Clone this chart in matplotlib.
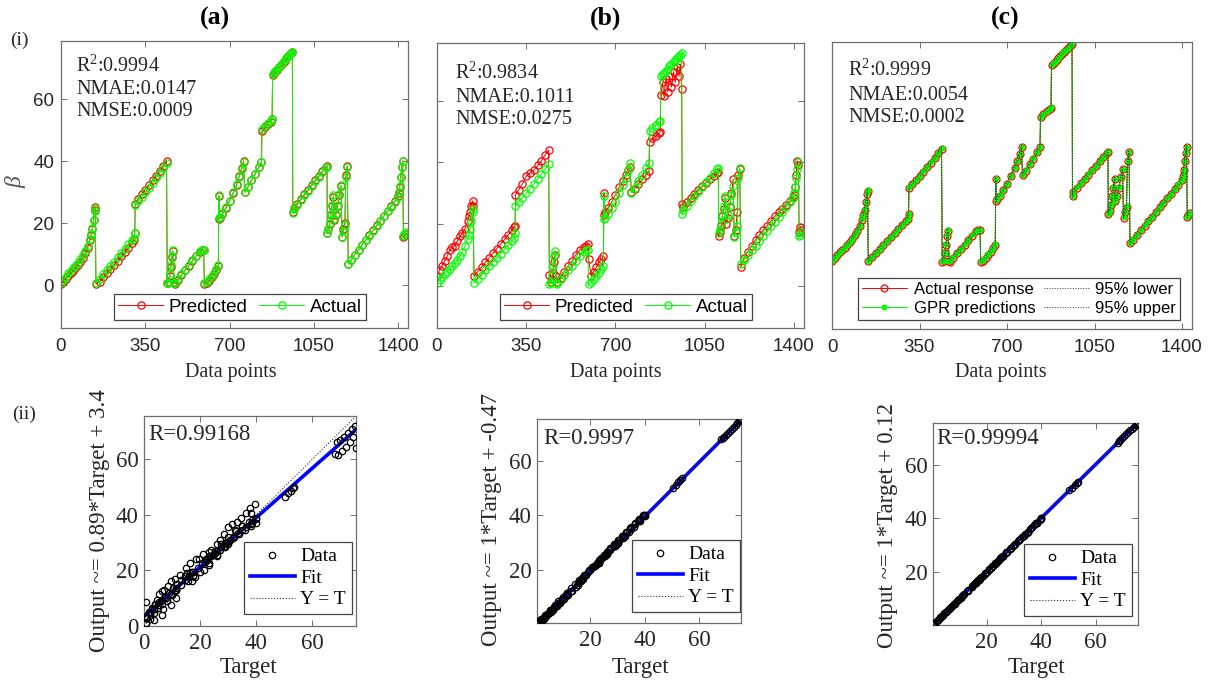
import matplotlib
matplotlib.use("Agg")
import matplotlib.pyplot as plt
import numpy as np

plt.rcParams['font.family'] = ['Liberation Sans', 'DejaVu Sans']
plt.rcParams['mathtext.fontset'] = 'custom'
plt.rcParams['mathtext.rm'] = 'Liberation Serif'
plt.rcParams['mathtext.it'] = 'Liberation Serif:italic'

# ---------------- data ----------------
x_idx = [0, 10, 20, 30, 40, 50, 60, 70, 80, 90, 100, 110, 120, 125, 130, 135, 140, 142,
         145, 160, 175, 190, 205, 220, 235, 250, 265, 280, 295, 302, 306,
         308, 320, 335, 350, 365, 380, 395, 410, 425, 438,
         441, 447, 452, 456, 460, 464, 468,
         472, 485, 500, 515, 530, 545, 560, 575, 585, 592,
         595, 605, 615, 625, 635, 645, 653, 655, 657,
         660, 670, 685, 700, 715, 730, 740, 750, 758,
         762, 775, 790, 805, 820, 832,
         834, 845, 858, 870, 876,
         878, 885, 890, 898, 905, 912, 920, 928, 935, 942, 950, 955, 960,
         962, 965, 980, 995, 1010, 1025, 1040, 1055, 1070, 1085, 1100, 1104,
         1105, 1110, 1115, 1120, 1125, 1130, 1133, 1140, 1148, 1155, 1162, 1166, 1172, 1178, 1182, 1188,
         1192, 1205, 1220, 1235, 1250, 1265, 1280, 1295, 1310, 1325, 1340, 1355, 1370, 1385, 1398,
         1402, 1406, 1410, 1414, 1418, 1421, 1425, 1430]

actual = [0.8, 1.8, 2.8, 3.8, 4.5, 5.4, 6.3, 7.3, 8.4, 9.6, 11.0, 12.8, 15.0, 16.5, 18.5, 21.0, 24.0, 25.0,
          0.8, 2.1, 3.5, 4.9, 6.2, 7.6, 9.0, 10.4, 11.8, 13.2, 14.6, 15.3, 17.0,
          26.0, 27.2, 28.6, 30.0, 31.5, 33.0, 34.6, 36.2, 37.8, 39.4,
          0.6, 0.8, 3.5, 6.5, 9.5, 11.3, 0.8,
          0.6, 2.0, 3.5, 5.0, 6.5, 8.0, 9.5, 11.0, 11.4, 11.4,
          0.6, 1.0, 2.0, 3.0, 4.0, 5.3, 6.5, 29.0, 21.6,
          22.0, 23.3, 25.2, 27.3, 30.0, 32.8, 35.0, 37.5, 39.8,
          30.2, 31.8, 34.0, 36.0, 38.2, 39.9,
          50.3, 51.3, 52.3, 53.0, 53.5,
          68.0, 68.6, 69.0, 69.8, 70.5, 71.2, 72.0, 72.7, 73.3, 74.0, 74.6, 75.0, 75.4,
          23.2, 24.5, 26.0, 27.5, 29.0, 30.5, 32.0, 33.5, 35.0, 36.5, 38.0, 38.3,
          17.0, 18.0, 20.0, 23.0, 26.0, 29.0, 21.5, 23.0, 26.0, 29.5, 32.3, 15.7, 17.5, 19.5, 35.0, 38.3,
          6.9, 8.2, 9.8, 11.4, 13.0, 14.5, 16.0, 17.6, 19.2, 20.7, 22.3, 23.8, 25.4, 27.0, 28.6,
          30.0, 32.0, 35.0, 38.0, 40.0, 16.0, 16.5, 17.3]

pred_a = [0.5, 1.0, 2.0, 3.0, 3.8, 4.6, 5.5, 6.5, 7.6, 8.8, 10.3, 12.0, 14.5, 16.2, 18.2, 21.0, 24.2, 25.2,
          0.4, 1.2, 2.5, 3.9, 5.2, 6.5, 7.9, 9.3, 10.7, 12.1, 13.6, 14.5, 16.8,
          26.3, 27.8, 29.3, 30.8, 32.3, 33.9, 35.4, 37.0, 38.6, 40.2,
          0.6, 1.0, 3.0, 6.0, 9.0, 11.0, 1.0,
          0.5, 1.8, 3.3, 4.8, 6.3, 7.8, 9.3, 10.8, 11.3, 11.4,
          0.5, 0.8, 1.5, 2.5, 3.6, 5.0, 6.2, 28.8, 21.5,
          21.8, 23.0, 25.0, 27.2, 29.8, 32.5, 35.2, 37.8, 40.1,
          30.0, 31.6, 33.8, 35.8, 38.0, 39.7,
          49.8, 51.0, 52.0, 52.8, 53.6,
          67.8, 68.4, 68.8, 69.6, 70.3, 71.0, 71.8, 72.5, 73.2, 73.9, 74.5, 74.9, 75.3,
          23.5, 24.8, 26.3, 27.8, 29.3, 30.8, 32.3, 33.8, 35.3, 36.8, 38.2, 38.6,
          16.8, 18.2, 19.8, 22.6, 25.6, 28.6, 21.2, 22.6, 25.6, 29.0, 32.0, 15.5, 18.0, 20.0, 35.5, 38.5,
          7.0, 8.3, 9.9, 11.5, 13.1, 14.6, 16.1, 17.7, 19.3, 20.8, 22.4, 23.9, 25.5, 27.1, 28.7,
          29.8, 31.8, 34.8, 38.2, 40.2, 15.5, 15.8, 16.5]

pred_b = [3.0, 5.0, 6.5, 8.0, 9.5, 11.5, 12.5, 13.0, 14.5, 16.0, 17.0, 18.5, 21.0, 22.5, 24.0, 26.0, 27.5, 26.0,
          3.0, 4.5, 6.0, 7.5, 9.0, 10.5, 12.0, 13.5, 15.0, 16.5, 18.0, 19.0, 19.5,
          29.5, 31.0, 33.0, 35.5, 36.5, 37.5, 39.0, 40.5, 42.5, 44.0,
          3.5, 1.0, 2.0, 4.0, 7.5, 10.0, 3.0,
          1.0, 2.5, 4.5, 6.5, 8.0, 10.0, 11.5, 12.5, 13.0, 13.5,
          8.5, 3.0, 4.5, 6.0, 7.5, 8.5, 9.5, 30.0, 23.0,
          24.0, 25.2, 27.0, 29.5, 32.0, 34.0, 36.0, 37.5, 38.5,
          30.5, 31.5, 33.0, 34.5, 36.0, 37.2,
          46.5, 47.8, 48.5, 49.5, 50.0,
          62.0, 66.0, 61.5, 67.0, 63.0, 68.0, 64.5, 69.5, 66.0, 71.0, 68.0, 72.0, 64.0,
          26.5, 25.5, 27.0, 28.5, 29.8, 31.0, 32.2, 33.4, 34.5, 35.5, 36.5, 37.0,
          16.0, 17.5, 19.5, 22.5, 25.0, 28.5, 20.0, 22.0, 25.5, 30.0, 34.5, 16.0, 18.0, 24.0, 36.0, 38.0,
          6.0, 9.0, 11.0, 13.0, 14.8, 16.5, 18.0, 19.5, 21.0, 22.5, 23.8, 25.0, 26.3, 27.5, 28.8,
          29.5, 32.0, 36.0, 40.5, 39.0, 17.5, 19.0, 18.0]

gpr_c = [0.9, 1.9, 2.9, 3.9, 4.6, 5.5, 6.4, 7.4, 8.5, 9.7, 11.1, 12.9, 15.1, 16.6, 18.6, 21.1, 24.1, 25.1,
         0.9, 2.2, 3.6, 5.0, 6.3, 7.7, 9.1, 10.5, 11.9, 13.3, 14.7, 15.4, 17.1,
         26.1, 27.3, 28.7, 30.1, 31.6, 33.1, 34.7, 36.3, 37.9, 39.5,
         0.7, 0.9, 3.6, 6.6, 9.6, 11.4, 0.9,
         0.7, 2.1, 3.6, 5.1, 6.6, 8.1, 9.6, 11.1, 11.5, 11.5,
         0.7, 1.1, 2.1, 3.1, 4.1, 5.4, 6.6, 28.9, 21.7,
         22.1, 23.4, 25.3, 27.4, 30.1, 32.9, 35.1, 37.6, 39.9,
         30.3, 31.9, 34.1, 36.1, 38.3, 40.0,
         50.4, 51.4, 52.4, 53.1, 53.6,
         68.1, 68.7, 69.1, 69.9, 70.6, 71.3, 72.1, 72.8, 73.4, 74.1, 74.7, 75.1, 75.5,
         23.3, 24.6, 26.1, 27.6, 29.1, 30.6, 32.1, 33.6, 35.1, 36.6, 38.1, 38.4,
         17.1, 18.1, 20.1, 23.1, 26.1, 29.1, 21.6, 23.1, 26.1, 29.6, 32.4, 15.8, 17.6, 19.6, 35.1, 38.4,
         7.0, 8.3, 9.9, 11.5, 13.1, 14.6, 16.1, 17.7, 19.3, 20.8, 22.4, 23.9, 25.5, 27.1, 28.7,
         30.1, 32.1, 35.1, 38.1, 40.1, 16.1, 16.6, 17.4]

gpr_lower = [0.4, 1.4, 2.4, 3.4, 4.1, 5.0, 5.9, 6.9, 8.0, 9.2, 10.6, 12.4, 14.6, 16.1, 18.1, 20.6, 23.6, 24.6,
             0.4, 1.7, 3.1, 4.5, 5.8, 7.2, 8.6, 10.0, 11.4, 12.8, 14.2, 14.9, 16.6,
             25.6, 26.8, 28.2, 29.6, 31.1, 32.6, 34.2, 35.8, 37.4, 39.0,
             0.2, 0.4, 3.1, 6.1, 9.1, 10.9, 0.4,
             0.2, 1.6, 3.1, 4.6, 6.1, 7.6, 9.1, 10.6, 11.0, 11.0,
             0.2, 0.6, 1.6, 2.6, 3.6, 4.9, 6.1, 28.6, 21.2,
             21.6, 22.9, 24.8, 26.9, 29.6, 32.4, 34.6, 37.1, 39.4,
             29.8, 31.4, 33.6, 35.6, 37.8, 39.5,
             49.9, 50.9, 51.9, 52.6, 53.1,
             67.6, 68.2, 68.6, 69.4, 70.1, 70.8, 71.6, 72.3, 72.9, 73.6, 74.2, 74.6, 75.0,
             22.8, 24.1, 25.6, 27.1, 28.6, 30.1, 31.6, 33.1, 34.6, 36.1, 37.6, 37.9,
             16.6, 17.6, 19.6, 22.6, 25.6, 28.6, 21.1, 22.6, 25.6, 29.1, 31.9, 15.3, 17.1, 19.1, 34.6, 37.9,
             6.5, 7.8, 9.4, 11.0, 12.6, 14.1, 15.6, 17.2, 18.8, 20.3, 21.9, 23.4, 25.0, 26.6, 28.2,
             29.6, 31.6, 34.6, 37.6, 39.6, 15.6, 16.1, 16.9]

gpr_upper = [1.4, 2.4, 3.4, 4.4, 5.1, 6.0, 6.9, 7.9, 9.0, 10.2, 11.6, 13.4, 15.6, 17.1, 19.1, 21.6, 24.6, 25.6,
             1.4, 2.7, 4.1, 5.5, 6.8, 8.2, 9.6, 11.0, 12.4, 13.8, 15.2, 15.9, 17.6,
             26.6, 27.8, 29.2, 30.6, 32.1, 33.6, 35.2, 36.8, 38.4, 40.0,
             1.2, 1.4, 4.1, 7.1, 10.1, 11.9, 1.4,
             1.2, 2.6, 4.1, 5.6, 7.1, 8.6, 10.1, 11.6, 12.0, 12.0,
             1.2, 1.6, 2.6, 3.6, 4.6, 5.9, 7.1, 29.6, 22.2,
             22.6, 23.9, 25.8, 27.9, 30.6, 33.4, 35.6, 38.1, 40.4,
             30.8, 32.4, 34.6, 36.6, 38.8, 40.5,
             50.9, 51.9, 52.9, 53.6, 54.1,
             68.6, 69.2, 69.6, 70.4, 71.1, 71.8, 72.6, 73.3, 73.9, 74.6, 75.2, 75.6, 76.0,
             23.8, 25.1, 26.6, 28.1, 29.6, 31.1, 32.6, 34.1, 35.6, 37.1, 38.6, 38.9,
             17.6, 18.6, 20.6, 23.6, 26.6, 29.6, 22.1, 23.6, 26.6, 30.1, 32.9, 16.3, 18.1, 20.1, 35.6, 38.9,
             7.5, 8.8, 10.4, 12.0, 13.6, 15.1, 16.6, 18.2, 19.8, 21.3, 22.9, 24.4, 26.0, 27.6, 29.2,
             30.6, 32.6, 35.6, 38.6, 40.6, 16.6, 17.1, 17.9]

panel_titles = ['(a)', '(b)', '(c)']
metrics_a = ['R$^2$:0.9994', 'NMAE:0.0147', 'NMSE:0.0009']
metrics_b = ['R$^2$:0.9834', 'NMAE:0.1011', 'NMSE:0.0275']
metrics_c = ['R$^2$:0.9999', 'NMAE:0.0054', 'NMSE:0.0002']
x_ticks_top = [0, 350, 700, 1050, 1400]
y_ticks_top = [0, 20, 40, 60]

reg_R = ['R=0.99168', 'R=0.9997', 'R=0.99994']
reg_slope = [0.89, 1.0, 1.0]
reg_intercept = [3.4, -0.47, 0.12]
reg_ylabels = ['Output ~= 0.89*Target + 3.4', 'Output ~= 1*Target + -0.47', 'Output ~= 1*Target + 0.12']
reg_ticks = [0, 20, 40, 60]

# ---------------- figure ----------------
W, H = 1213, 684
fig = plt.figure(figsize=(W / 100, H / 100), dpi=100)
SERIF = 'Liberation Serif'
SANS = 'Liberation Sans'
DARK = '#262626'
EDGE = '#6e6e6e'
RED = (1, 0, 0)
GREEN = (0, 1, 0)


def add_ax(l, t, r, b):
    return fig.add_axes([l / W, 1 - b / H, (r - l) / W, (b - t) / H])


def ftext(x, y, s, **kw):
    return fig.text(x / W, 1 - y / H, s, **kw)


def style_axes(ax, labelsize, family):
    for sp in ax.spines.values():
        sp.set_color(EDGE)
        sp.set_linewidth(0.9)
    ax.tick_params(direction='in', top=True, right=True, length=4, width=0.7,
                   color=EDGE, labelcolor=DARK, labelsize=labelsize)
    for lab in ax.get_xticklabels() + ax.get_yticklabels():
        lab.set_fontfamily(family)


# top row axes positions (pixels)
top_boxes = [(61, 41, 408, 328), (437, 43, 804, 328), (832, 42, 1192, 329)]
top_ylims = [(-13.8, 78.8), (-13.8, 78.8), (-22.5, 76.0)]
preds = [pred_a, pred_b]
for i in range(3):
    ax = add_ax(*top_boxes[i])
    if i < 2:
        ax.plot(x_idx, preds[i], '-o', color=RED, lw=0.7, ms=5.2, mfc='none', mew=0.9,
                label='Predicted')
        ax.plot(x_idx, actual, '-o', color=GREEN, lw=0.7, ms=5.2, mfc='none', mew=0.9,
                label='Actual')
    else:
        ax.plot(x_idx, actual, '-o', color=RED, lw=0.7, ms=5.0, mfc='none', mew=0.9,
                label='Actual response')
        ax.plot(x_idx, gpr_c, '-o', color=GREEN, lw=0.7, ms=3.8, mfc=GREEN, mec=GREEN, mew=0.5,
                label='GPR predictions')
        ax.plot(x_idx, gpr_lower, ':', color='#333333', lw=0.7, label='95% lower')
        ax.plot(x_idx, gpr_upper, ':', color='#333333', lw=0.7, label='95% upper')
    ax.set_xlim(0, 1440)
    ax.set_ylim(*top_ylims[i])
    ax.set_xticks(x_ticks_top)
    if i == 0:
        ax.set_yticks(y_ticks_top)
    elif i == 1:
        ax.set_yticks(y_ticks_top)
        ax.set_yticklabels([])
    else:
        ax.set_yticks([])
    style_axes(ax, 13.5, SANS)
    ax.tick_params(axis='x', pad=7)
    ax.tick_params(axis='y', pad=5)

    if i < 2:
        centers = [(240, 307), (626, 307)]
        leg = ax.legend(loc='center', bbox_to_anchor=(centers[i][0] / W, 1 - centers[i][1] / H),
                        bbox_transform=fig.transFigure, ncol=2, fontsize=13.5,
                        handlelength=2.4, handletextpad=0.3, columnspacing=0.6,
                        borderpad=0.25, numpoints=1, fancybox=False, framealpha=1,
                        edgecolor='#444444')
    else:
        leg = ax.legend(loc='center', bbox_to_anchor=(1019 / W, 1 - 299 / H),
                        bbox_transform=fig.transFigure, ncol=2, fontsize=12,
                        handlelength=2.7, handletextpad=0.4, columnspacing=0.5,
                        borderpad=0.25, labelspacing=0.25, numpoints=1, fancybox=False,
                        framealpha=1, edgecolor='#444444')
    leg.get_frame().set_linewidth(0.9)

# metric texts
metric_sets = [metrics_a, metrics_b, metrics_c]
metric_pos = [(76, [66, 89, 112]), (455, [73, 97, 120]), (848, [70, 95, 117])]
for ms_, (mx, mys) in zip(metric_sets, metric_pos):
    for s, my in zip(ms_, mys):
        ftext(mx, my, s, fontsize=14.5, fontfamily=SERIF, color=DARK, ha='left', va='center')

# panel titles
for t, tx in zip(panel_titles, [215, 606, 1005]):
    ftext(tx, 18, t, fontsize=18.5, fontweight='bold', fontfamily=SERIF, color='black',
          ha='center', va='center')
ftext(19, 40, '(i)', fontsize=14, fontfamily=SERIF, color=DARK, ha='center', va='center')
ftext(24, 414, '(ii)', fontsize=14, fontfamily=SERIF, color=DARK, ha='center', va='center')
ftext(16, 182, 'β', fontsize=17, fontfamily=SERIF, style='italic', color='#555555',
      ha='center', va='center', rotation=90)
for dx in [231, 616, 1001]:
    ftext(dx, 372, 'Data points', fontsize=14.5, fontfamily=SERIF, color=DARK,
          ha='center', va='center')

# ---------------- regression row ----------------
reg_boxes = [(144, 416, 356, 626), (537, 419, 741, 623), (933, 423, 1138, 625)]
reg_lims = [(0.0, 75.5), (0.4, 75.3), (0.3, 75.5)]
reg_outputs = [pred_b, pred_a, gpr_c]
reg_Rpos = [(148, 434), (543, 438), (936, 438)]
reg_ylab_pos = [(100, 521), (492, 519), (888, 525)]
reg_xlab_pos = [(248, 668), (640, 668), (1036, 668)]
reg_leg_pos = [(298, 578), (686, 576), (1078, 580)]
for i in range(3):
    ax = add_ax(*reg_boxes[i])
    lo, hi = reg_lims[i]
    tmin, tmax = min(actual), max(actual)
    ax.plot([tmin, tmax], [reg_slope[i] * tmin + reg_intercept[i], reg_slope[i] * tmax + reg_intercept[i]],
            '-', color='#0000ff', lw=2.6, label='Fit', zorder=2)
    ax.plot([lo, hi], [lo, hi], ':', color='#333333', lw=0.8, label='Y = T', zorder=2)
    ax.plot(actual, reg_outputs[i], 'o', ls='none', ms=4.6, mfc='none', mec='black', mew=0.9,
            label='Data', zorder=3)
    ax.set_xlim(lo, hi)
    ax.set_ylim(lo, hi)
    ax.set_xticks([t for t in reg_ticks if lo <= t <= hi])
    ax.set_yticks([t for t in reg_ticks if lo <= t <= hi])
    style_axes(ax, 16.5, SERIF)
    ax.tick_params(axis='x', pad=5)
    ax.tick_params(axis='y', pad=4)
    h, l = ax.get_legend_handles_labels()
    order = [2, 0, 1]
    leg = ax.legend([h[k] for k in order], [l[k] for k in order], loc='center',
                    bbox_to_anchor=(reg_leg_pos[i][0] / W, 1 - reg_leg_pos[i][1] / H),
                    bbox_transform=fig.transFigure, handlelength=2.3,
                    handletextpad=0.3, borderpad=0.3, labelspacing=0.2, numpoints=1,
                    fancybox=False, framealpha=1, edgecolor='#444444',
                    prop={'family': SERIF, 'size': 14})
    leg.get_frame().set_linewidth(0.9)
    ftext(reg_Rpos[i][0], reg_Rpos[i][1], reg_R[i], fontsize=16.5, fontfamily=SERIF,
          color=DARK, ha='left', va='center')
    ftext(reg_ylab_pos[i][0], reg_ylab_pos[i][1], reg_ylabels[i], fontsize=16.5,
          fontfamily=SERIF, color=DARK, ha='center', va='center', rotation=90)
    ftext(reg_xlab_pos[i][0], reg_xlab_pos[i][1], 'Target', fontsize=16.5,
          fontfamily=SERIF, color=DARK, ha='center', va='center')

fig.savefig('out.png', dpi=100)
